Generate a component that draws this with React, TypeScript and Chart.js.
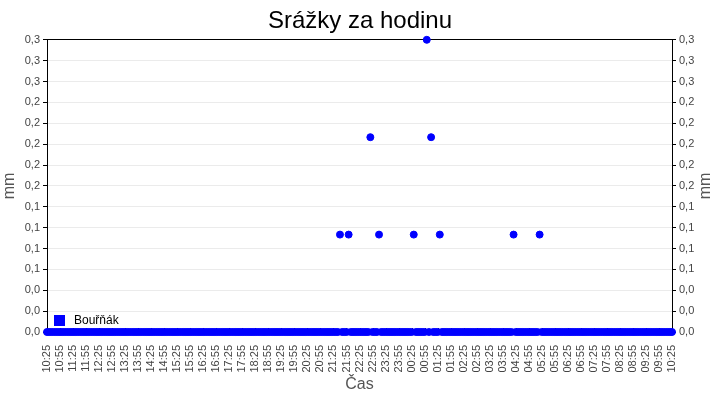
import React, { useEffect, useRef } from "react";
import { Chart, registerables } from "chart.js";

Chart.register(...registerables);

const chartTitle = "Srážky za hodinu";
const seriesName = "Bouřňák";
const xTitle = "Čas";
const yTitle = "mm";

const startHour = 10;
const startMinute = 25;
const stepMinutes = 5;

// precipitation per reading (mm), one row = one hour of 5-minute readings from 10:25
const rain: number[] = [
  0, 0, 0, 0, 0, 0, 0, 0, 0, 0, 0, 0,
  0, 0, 0, 0, 0, 0, 0, 0, 0, 0, 0, 0,
  0, 0, 0, 0, 0, 0, 0, 0, 0, 0, 0, 0,
  0, 0, 0, 0, 0, 0, 0, 0, 0, 0, 0, 0,
  0, 0, 0, 0, 0, 0, 0, 0, 0, 0, 0, 0,
  0, 0, 0, 0, 0, 0, 0, 0, 0, 0, 0, 0,
  0, 0, 0, 0, 0, 0, 0, 0, 0, 0, 0, 0,
  0, 0, 0, 0, 0, 0, 0, 0, 0, 0, 0, 0,
  0, 0, 0, 0, 0, 0, 0, 0, 0, 0, 0, 0,
  0, 0, 0, 0, 0, 0, 0, 0, 0, 0, 0, 0,
  0, 0, 0, 0, 0, 0, 0, 0, 0, 0, 0, 0,
  0, 0, 0, 0.1, 0, 0, 0, 0.1, 0, 0, 0, 0,
  0, 0, 0, 0, 0, 0.2, 0, 0, 0, 0.1, 0, 0,
  0, 0, 0, 0, 0, 0, 0, 0, 0, 0, 0, 0,
  0, 0.1, 0, 0, 0, 0, 0, 0.3, 0, 0.2, 0, 0,
  0, 0.1, 0, 0, 0, 0, 0, 0, 0, 0, 0, 0,
  0, 0, 0, 0, 0, 0, 0, 0, 0, 0, 0, 0,
  0, 0, 0, 0, 0, 0, 0, 0, 0, 0, 0, 0.1,
  0, 0, 0, 0, 0, 0, 0, 0, 0, 0, 0, 0.1,
  0, 0, 0, 0, 0, 0, 0, 0, 0, 0, 0, 0,
  0, 0, 0, 0, 0, 0, 0, 0, 0, 0, 0, 0,
  0, 0, 0, 0, 0, 0, 0, 0, 0, 0, 0, 0,
  0, 0, 0, 0, 0, 0, 0, 0, 0, 0, 0, 0,
  0, 0, 0, 0, 0, 0, 0, 0, 0, 0, 0, 0,
  0,
];

const xTickLabels: string[] = [
  "10:25", "10:55", "11:25", "11:55", "12:25", "12:55", "13:25", "13:55",
  "14:25", "14:55", "15:25", "15:55", "16:25", "16:55", "17:25", "17:55",
  "18:25", "18:55", "19:25", "19:55", "20:25", "20:55", "21:25", "21:55",
  "22:25", "22:55", "23:25", "23:55", "00:25", "00:55", "01:25", "01:55",
  "02:25", "02:55", "03:25", "03:55", "04:25", "04:55", "05:25", "05:55",
  "06:25", "06:55", "07:25", "07:55", "08:25", "08:55", "09:25", "09:55",
  "10:25",
];
const xTickEvery = 6; // readings per labelled tick (30 min)

const yMax = 0.3;
const yTickLabels: string[] = [
  "0,0", "0,0", "0,0", "0,1", "0,1", "0,1", "0,1", "0,2",
  "0,2", "0,2", "0,2", "0,2", "0,3", "0,3", "0,3",
];

const pad = (n: number) => (n < 10 ? "0" + n : "" + n);
const timeLabels: string[] = rain.map((_, i) => {
  const m = (startHour * 60 + startMinute + i * stepMinutes) % 1440;
  return pad(Math.floor(m / 60)) + ":" + pad(m % 60);
});

const FONT = "Arial, 'Liberation Sans', sans-serif";

export default function App() {
  const ref = useRef<HTMLCanvasElement | null>(null);

  useEffect(() => {
    document.body.style.margin = "0";
    const canvas = ref.current;
    if (!canvas) return;

    const yTickValues = yTickLabels.map((_, k) => (yMax * k) / (yTickLabels.length - 1));

    const decor = {
      id: "decor",
      beforeDatasetsDraw(chart: any) {
        const { ctx, chartArea: a } = chart;
        ctx.save();
        ctx.strokeStyle = "#000";
        ctx.lineWidth = 1;
        ctx.strokeRect(Math.round(a.left) + 0.5, Math.round(a.top) - 0.5, Math.round(a.right - a.left), Math.round(a.bottom - a.top) + 1);
        // inner x tick marks
        const xs = chart.scales.x;
        ctx.beginPath();
        for (let i = 0; i < rain.length; i += xTickEvery) {
          const px = Math.round(xs.getPixelForValue(i)) + 0.5;
          ctx.moveTo(px, a.bottom - 4);
          ctx.lineTo(px, a.bottom);
        }
        ctx.stroke();
        ctx.restore();
      },
      afterDraw(chart: any) {
        const { ctx, chartArea: a } = chart;
        ctx.save();
        // legend inside plot
        ctx.fillStyle = "#0000ff";
        ctx.fillRect(a.left + 7, a.bottom - 17, 11, 11);
        ctx.fillStyle = "#000";
        ctx.font = "12px " + FONT;
        ctx.textBaseline = "middle";
        ctx.textAlign = "left";
        ctx.fillText(seriesName, a.left + 27, a.bottom - 11.5);
        // right axis title, same orientation as left
        ctx.translate(706, (a.top + a.bottom) / 2);
        ctx.rotate(-Math.PI / 2);
        ctx.textAlign = "center";
        ctx.fillStyle = "#555";
        ctx.font = "16px " + FONT;
        ctx.fillText(yTitle, 0, 0);
        ctx.restore();
      },
    };

    const yCommon = (position: "left" | "right", onArea: boolean) => ({
      type: "linear" as const,
      position,
      min: 0,
      max: yMax,
      afterBuildTicks: (s: any) => {
        s.ticks = yTickValues.map((v) => ({ value: v }));
      },
      ticks: {
        color: "#444",
        font: { size: 11, family: FONT },
        padding: 3,
        callback: (_v: any, i: number) => yTickLabels[i],
      },
      grid: {
        color: "#ebebeb",
        tickColor: "#000",
        tickLength: 4,
        drawOnChartArea: onArea,
      },
      border: { display: true, color: "#000" },
    });

    const chart = new Chart(canvas, {
      type: "line",
      data: {
        labels: timeLabels,
        datasets: [
          {
            label: seriesName,
            data: rain,
            showLine: false,
            pointRadius: 3.5,
            pointBorderWidth: 1,
            pointBackgroundColor: "#0000ff",
            pointBorderColor: "#0000ff",
            borderColor: "#0000ff",
            backgroundColor: "#0000ff",
            clip: false as any,
          },
        ],
      },
      options: {
        responsive: false,
        animation: false,
        events: [],
        layout: { padding: { left: 0, right: 0, top: 0, bottom: 0 } },
        plugins: {
          legend: { display: false },
          tooltip: { enabled: false },
          title: {
            display: true,
            text: chartTitle,
            color: "#000",
            font: { size: 24, family: FONT, weight: "normal" as any },
            padding: { top: 7, bottom: 4 },
          },
        },
        scales: {
          x: {
            type: "category",
            offset: false,
            afterFit: (s: any) => {
              s.height = 68;
            },
            ticks: {
              autoSkip: false,
              maxRotation: 90,
              minRotation: 90,
              padding: 5,
              color: "#444",
              font: { size: 11, family: FONT },
              callback: (_v: any, i: number) =>
                i % xTickEvery === 0 ? xTickLabels[i / xTickEvery] : "",
            },
            grid: { display: false },
            border: { display: false },
            title: {
              display: true,
              text: xTitle,
              color: "#555",
              font: { size: 16, family: FONT },
              padding: { top: 0, bottom: 6 },
            },
          },
          y: {
            ...yCommon("left", true),
            afterFit: (s: any) => {
              s.width = 47;
            },
            title: {
              display: true,
              text: yTitle,
              color: "#555",
              font: { size: 16, family: FONT },
              padding: { top: 0, bottom: 0 },
            },
          },
          y2: {
            ...yCommon("right", false),
            afterFit: (s: any) => {
              s.width = 48;
            },
            title: { display: false },
          },
        },
      } as any,
      plugins: [decor],
    });

    return () => chart.destroy();
  }, []);

  return (
    <div style={{ position: "absolute", left: 0, top: 0, width: 720, height: 400, background: "#fff" }}>
      <canvas ref={ref} width={720} height={400} />
    </div>
  );
}
